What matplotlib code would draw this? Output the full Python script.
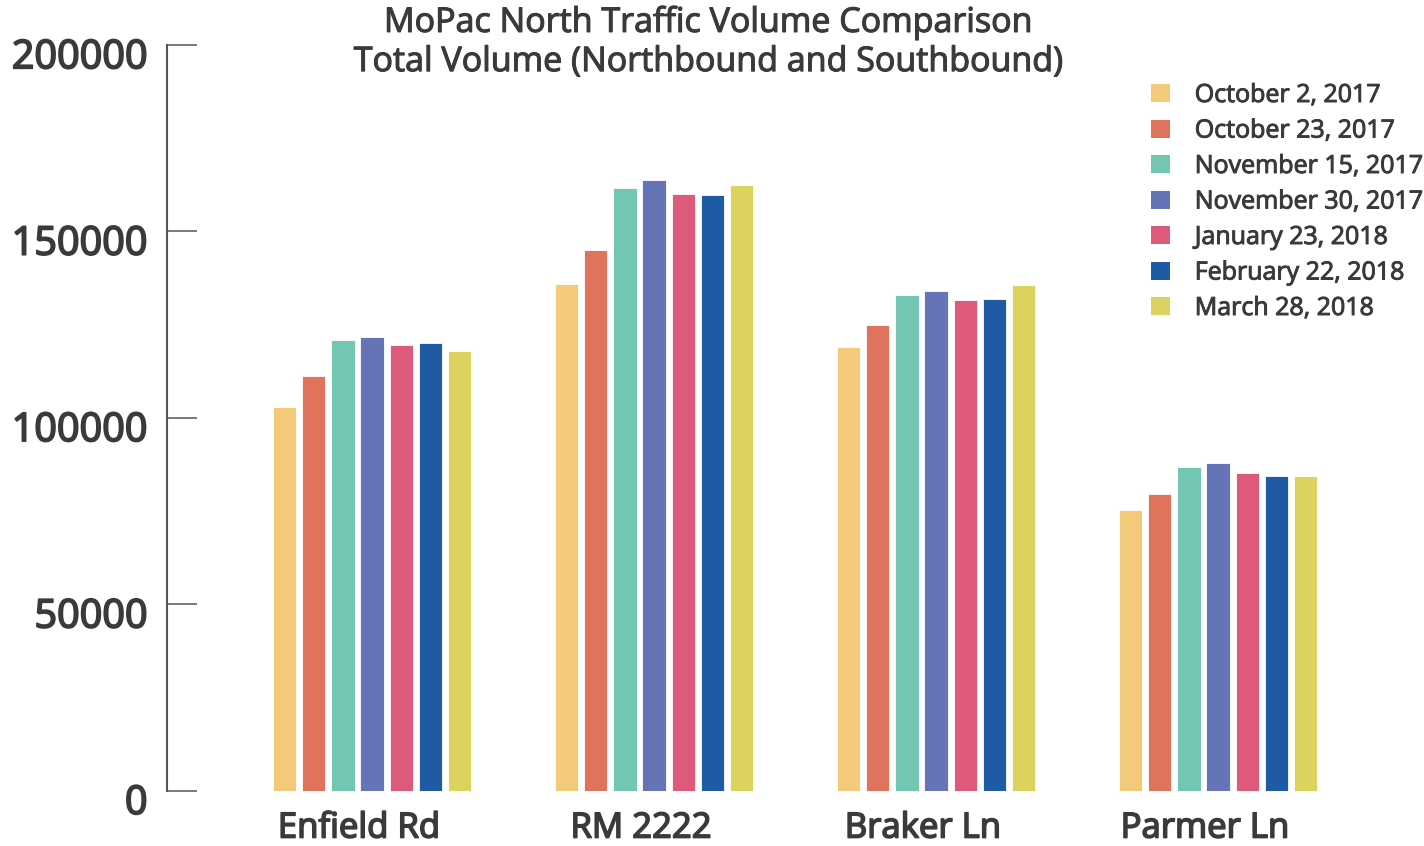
import matplotlib
matplotlib.use("Agg")
import matplotlib.pyplot as plt
import matplotlib.transforms as mtransforms
import matplotlib.patheffects as pe
from matplotlib.patches import Patch
import numpy as np

plt.rcParams['font.family'] = ['Open Sans', 'DejaVu Sans']

locations = ["Enfield Rd", "RM 2222", "Braker Ln", "Parmer Ln"]
dates = ["October 2, 2017", "October 23, 2017", "November 15, 2017",
         "November 30, 2017", "January 23, 2018", "February 22, 2018",
         "March 28, 2018"]
colors = ["#F3C97A", "#DF735B", "#73C6B2", "#6574B7", "#DD5A7B", "#1F5AA4", "#DBD35E"]

oct02 = [102800, 135900, 119000, 75400]
oct23 = [111200, 144900, 124900, 79700]
nov15 = [120900, 161600, 133000, 86700]
nov30 = [121800, 163700, 134100, 88000]
jan23 = [119500, 160100, 131600, 85300]
feb22 = [120200, 159800, 131800, 84400]
mar28 = [118000, 162400, 135600, 84400]
series = [oct02, oct23, nov15, nov30, jan23, feb22, mar28]

yticks = [0, 50000, 100000, 150000, 200000]
title = "MoPac North Traffic Volume Comparison\nTotal Volume (Northbound and Southbound)"

W, H = 1424, 846
fig = plt.figure(figsize=(W / 100, H / 100), dpi=100)
ax = fig.add_axes([167 / W, (H - 790.7) / H, 1 - 167 / W, 745.7 / H])

x = np.arange(len(locations))
step = 0.1035
width = 0.0827
for i, (vals, c, lab) in enumerate(zip(series, colors, dates)):
    ax.bar(x + (i - 3) * step, vals, width=width, color=c, label=lab,
           edgecolor='white', linewidth=0.6)

ax.set_xlim(-0.727, 3.730)
ax.set_ylim(0, 200000)
ax.set_yticks(yticks)
ax.set_yticklabels([str(v) for v in yticks])
ax.set_xticks(x)
ax.set_xticklabels(locations)

text_color = "#3A3A3A"
axis_color = "#555555"
for s in ['top', 'right', 'bottom']:
    ax.spines[s].set_visible(False)
ax.spines['left'].set_color(axis_color)
ax.spines['left'].set_linewidth(1.5)

ax.tick_params(axis='y', direction='in', length=21.6, width=1.1, color=axis_color,
               pad=14, labelsize=28.5, labelcolor=text_color)
ax.tick_params(axis='x', length=0, pad=15, labelsize=25, labelcolor=text_color)
for lab in ax.get_yticklabels():
    lab.set_fontweight('normal')
    lab.set_path_effects([pe.withStroke(linewidth=1.3, foreground=text_color)])
    lab.set_transform(lab.get_transform() +
                      mtransforms.ScaledTranslation(0, -8 / 100, fig.dpi_scale_trans))
for lab in ax.get_xticklabels():
    lab.set_fontweight('normal')
    lab.set_path_effects([pe.withStroke(linewidth=1.2, foreground=text_color)])
    lab.set_transform(lab.get_transform() +
                      mtransforms.ScaledTranslation(-13 / 100, 0, fig.dpi_scale_trans))

fig.text(708 / W, 1 - 42 / H, title, ha='center', va='center', fontsize=24.5,
         color=text_color, linespacing=1.2,
         path_effects=[pe.withStroke(linewidth=0.8, foreground=text_color)])

handles = [Patch(facecolor=c, edgecolor='none', label=d) for c, d in zip(colors, dates)]
leg = ax.legend(handles=handles, loc='upper left', bbox_to_anchor=(1151 / W, 1 - 83 / H),
                bbox_transform=fig.transFigure, frameon=False, fontsize=18,
                handlelength=0.75, handleheight=0.75, handletextpad=1.0,
                labelspacing=0.42, borderaxespad=0, borderpad=0)
for t in leg.get_texts():
    t.set_color(text_color)
    t.set_path_effects([pe.withStroke(linewidth=0.7, foreground=text_color)])

fig.savefig("out.png", dpi=100, facecolor='white')
